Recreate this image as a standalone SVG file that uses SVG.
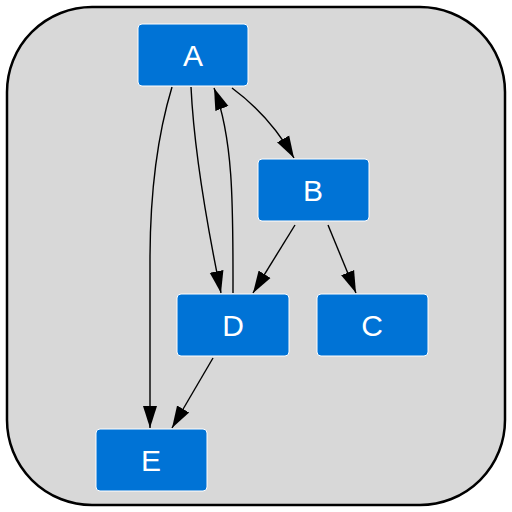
<svg xmlns="http://www.w3.org/2000/svg" width="512" height="512" viewBox="0 0 512 512">
<style>
.node rect{fill:#0073d6;stroke:#ffffff;stroke-width:1}
.node text{fill:#ffffff;font-family:"Liberation Sans",Arial,sans-serif;font-size:30px;text-anchor:middle;dominant-baseline:central}
.edge{fill:none;stroke:#000000;stroke-width:1.4;marker-end:url(#ah)}
</style>
<defs>
<marker id="ah" markerUnits="userSpaceOnUse" markerWidth="24" markerHeight="16" refX="22" refY="8" orient="auto">
<path d="M0,1 L22,8 L0,15 z" fill="#000"/>
</marker>
</defs>
<rect x="7" y="7" width="498" height="498" rx="85" ry="85" fill="#d8d8d8" stroke="#000" stroke-width="2.5"/>
<g id="connectors">
<path class="edge" d="M172,87 C156,140 150,200 150,260 L150,428"/>
<path class="edge" d="M191,87 C194,150 208,230 221,293"/>
<path class="edge" d="M233,293 C233,210 234,140 214,88"/>
<path class="edge" d="M232,88 C255,105 278,130 294,158"/>
<path class="edge" d="M295,225 L253,293"/>
<path class="edge" d="M328,225 L356,293"/>
<path class="edge" d="M213,358 L172,428"/>
</g>
<g id="A" class="node"><rect x="138" y="24" width="110" height="62" rx="4"/><text x="193" y="55">A</text></g>
<g id="B" class="node"><rect x="258" y="159" width="111" height="62" rx="4"/><text x="313" y="190">B</text></g>
<g id="C" class="node"><rect x="317" y="294" width="111" height="62" rx="4"/><text x="372" y="325">C</text></g>
<g id="D" class="node"><rect x="177" y="294" width="112" height="62" rx="4"/><text x="233" y="325">D</text></g>
<g id="E" class="node"><rect x="96" y="429" width="111" height="62" rx="4"/><text x="151" y="460">E</text></g>
</svg>
